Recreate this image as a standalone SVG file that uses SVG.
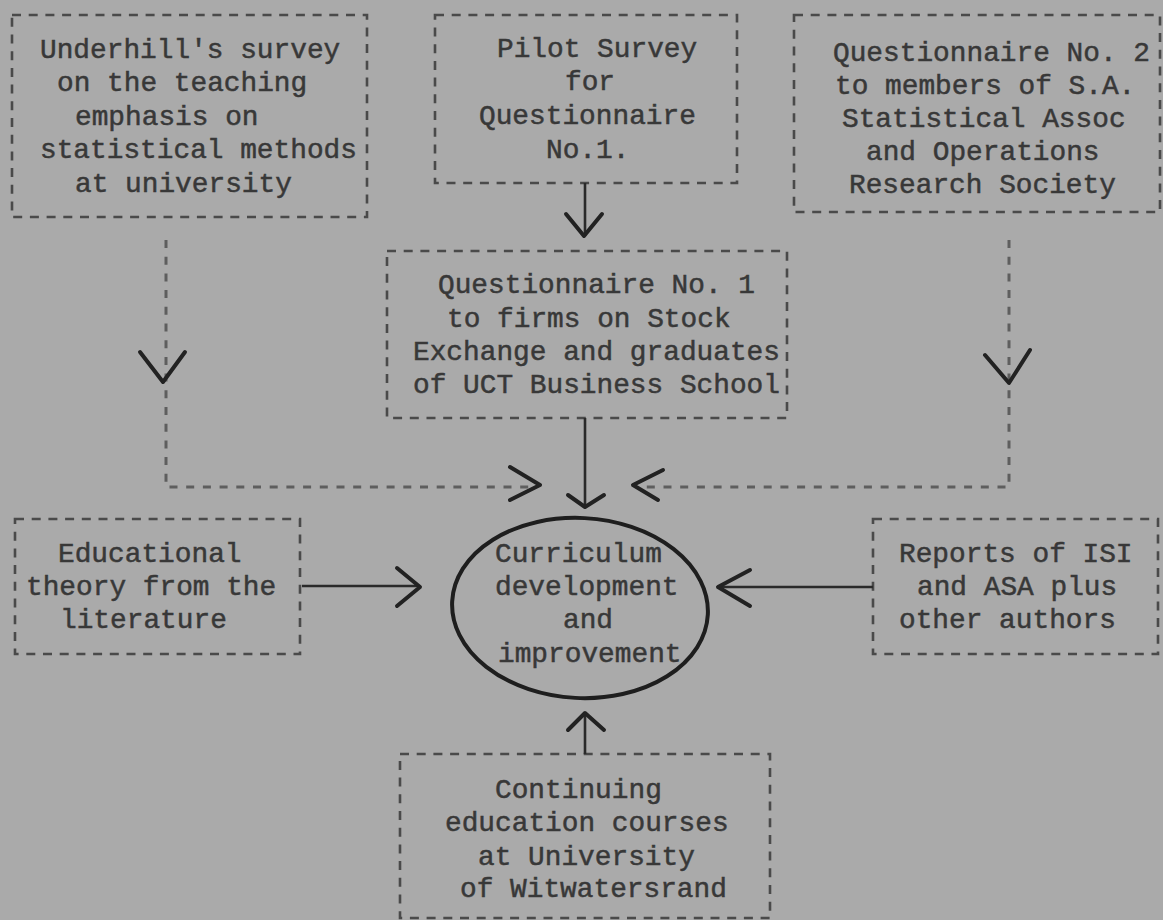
<svg xmlns="http://www.w3.org/2000/svg" width="1163" height="920" viewBox="0 0 1163 920">
<style>
.bg{fill:#aaaaaa}
.box{fill:none;stroke:#4a4a4a;stroke-width:2.6;stroke-dasharray:9 7.7}
.t{font-family:"Liberation Mono","DejaVu Sans Mono",monospace;font-size:27.8px;fill:#383838;stroke:#383838;stroke-width:0.5}
.dash{fill:none;stroke:#5e5e5e;stroke-width:3;stroke-dasharray:8 8.7}
.solid{fill:none;stroke:#2a2a2a;stroke-width:2.6}
.head{fill:none;stroke:#222222;stroke-width:4;stroke-linecap:round;stroke-linejoin:round}
.oval{fill:none;stroke:#1e1e1e;stroke-width:4}
</style>
<rect class="bg" x="0" y="0" width="1163" height="920"/>

<g id="underhill">
<rect class="box" x="12" y="15" width="355" height="202"/>
<text class="t" x="40" y="58">Underhill's survey</text>
<text class="t" x="57" y="91">on the teaching</text>
<text class="t" x="75" y="125">emphasis on</text>
<text class="t" x="40" y="158">statistical methods</text>
<text class="t" x="75" y="192">at university</text>
</g>

<g id="pilot">
<rect class="box" x="435" y="15" width="302" height="168"/>
<text class="t" x="497" y="57">Pilot Survey</text>
<text class="t" x="565" y="90">for</text>
<text class="t" x="479" y="124">Questionnaire</text>
<text class="t" x="546" y="158">No.1.</text>
</g>

<g id="q2">
<rect class="box" x="794" y="15" width="366" height="197"/>
<text class="t" x="833" y="61">Questionnaire No. 2</text>
<text class="t" x="835" y="94">to members of S.A.</text>
<text class="t" x="842" y="127">Statistical Assoc</text>
<text class="t" x="866" y="160">and Operations</text>
<text class="t" x="849" y="193">Research Society</text>
</g>

<g id="q1">
<rect class="box" x="387" y="251" width="400" height="167"/>
<text class="t" x="438" y="293">Questionnaire No. 1</text>
<text class="t" x="447" y="327">to firms on Stock</text>
<text class="t" x="413" y="360">Exchange and graduates</text>
<text class="t" x="413" y="393">of UCT Business School</text>
</g>

<g id="educational">
<rect class="box" x="15" y="519" width="285" height="135"/>
<text class="t" x="58" y="562">Educational</text>
<text class="t" x="26" y="595">theory from the</text>
<text class="t" x="60" y="628">literature</text>
</g>

<g id="curriculum">
<ellipse class="oval" cx="580" cy="608" rx="128" ry="90" transform="rotate(3 580 608)"/>
<text class="t" x="495" y="562">Curriculum</text>
<text class="t" x="495" y="595">development</text>
<text class="t" x="563" y="628">and</text>
<text class="t" x="498" y="662">improvement</text>
</g>

<g id="reports">
<rect class="box" x="873" y="519" width="285" height="135"/>
<text class="t" x="899" y="562">Reports of ISI</text>
<text class="t" x="917" y="595">and ASA plus</text>
<text class="t" x="899" y="628">other authors</text>
</g>

<g id="continuing">
<rect class="box" x="400" y="754" width="370" height="164"/>
<text class="t" x="495" y="798">Continuing</text>
<text class="t" x="445" y="831">education courses</text>
<text class="t" x="478" y="865">at University</text>
<text class="t" x="460" y="897">of Witwatersrand</text>
</g>

<g id="connectors">
<path class="solid" d="M585 183 V236"/>
<path class="head" d="M566 214 L584 236 L602 214"/>

<path class="dash" d="M166 240 V487 H532"/>
<path class="head" d="M140 352 L163 382 L185 352"/>
<path class="head" d="M510 467 L540 485 L510 500"/>

<path class="dash" d="M1009 240 V487 H640"/>
<path class="head" d="M985 355 L1009 383 L1030 350"/>
<path class="head" d="M663 470 L633 485 L658 500"/>

<path class="solid" d="M585 418 V507"/>
<path class="head" d="M568 495 L585 507 L604 495"/>

<path class="solid" d="M302 586 H420"/>
<path class="head" d="M397 568 L420 587 L397 606"/>

<path class="solid" d="M873 587 H718"/>
<path class="head" d="M750 570 L718 587 L750 606"/>

<path class="solid" d="M585 754 V713"/>
<path class="head" d="M568 730 L585 713 L604 730"/>
</g>
</svg>
